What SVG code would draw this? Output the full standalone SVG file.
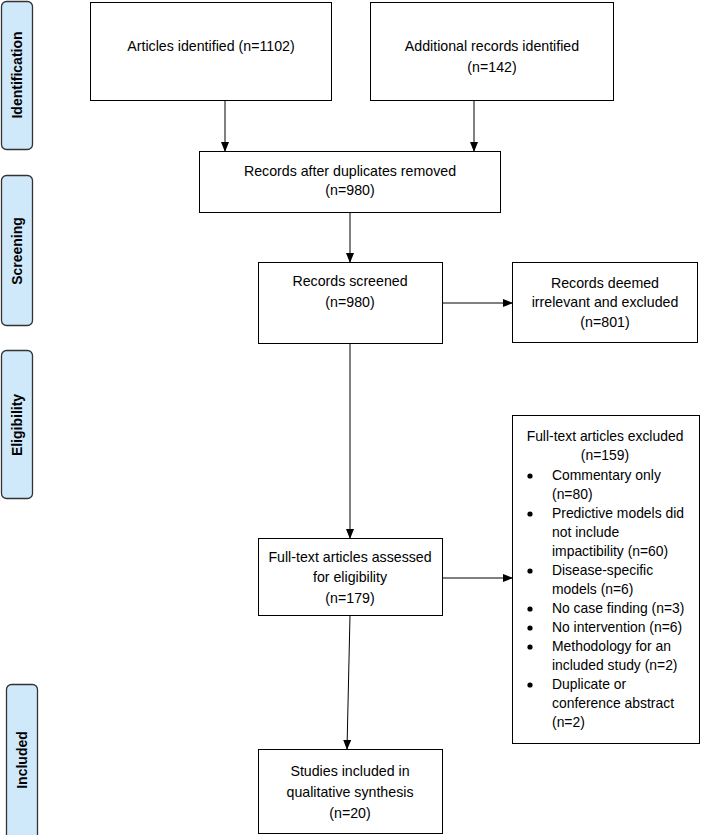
<svg xmlns="http://www.w3.org/2000/svg" width="701" height="835" viewBox="0 0 701 835">
<defs>
<marker id="ah" markerWidth="10" markerHeight="8" refX="9" refY="4" orient="auto" markerUnits="userSpaceOnUse">
<path d="M0,0 L10,4 L0,8 Z" fill="#000"/>
</marker>
<style>
.box{fill:#fff;stroke:#000;stroke-width:1}
.side{fill:#cfe9fb;stroke:#333;stroke-width:1.3}
.t{font-family:"Liberation Sans",Arial,sans-serif;font-size:14.2px;fill:#000}
.e{font-family:"Liberation Sans",Arial,sans-serif;font-size:13.9px;fill:#000}
.dot{fill:#000}
.c{text-anchor:middle}
.s{font-family:"Liberation Sans",Arial,sans-serif;font-size:14px;font-weight:bold;fill:#000;text-anchor:middle}
.ln{stroke:#000;stroke-width:1;fill:none;marker-end:url(#ah)}
</style>
</defs>
<rect width="701" height="835" fill="#fff"/>
<g id="phase-identification"><rect class="side" x="1.5" y="1.5" width="31" height="148" rx="5"/><text class="s" transform="translate(22,75) rotate(-90)">Identification</text></g>
<g id="phase-screening"><rect class="side" x="1.5" y="175.5" width="31" height="150" rx="5"/><text class="s" transform="translate(22,251) rotate(-90)">Screening</text></g>
<g id="phase-eligibility"><rect class="side" x="1.5" y="350.5" width="31" height="148" rx="5"/><text class="s" transform="translate(22,425) rotate(-90)">Eligibility</text></g>
<g id="phase-included"><rect class="side" x="6.5" y="684.5" width="31" height="160" rx="5"/><text class="s" transform="translate(27,760) rotate(-90)">Included</text></g>

<g id="n-articles"><rect class="box" x="90.5" y="2.5" width="241" height="98"/><text class="t c" x="211" y="51">Articles identified (n=1102)</text></g>
<g id="n-additional"><rect class="box" x="370.5" y="2.5" width="243" height="98"/><text class="t c" x="492" y="51">Additional records identified</text><text class="t c" x="492" y="72">(n=142)</text></g>
<g id="n-duplicates"><rect class="box" x="199.5" y="151.5" width="301" height="61"/><text class="t c" x="350" y="176">Records after duplicates removed</text><text class="t c" x="350" y="195">(n=980)</text></g>
<g id="n-screened"><rect class="box" x="258.5" y="262.5" width="184" height="81"/><text class="t c" x="350" y="286">Records screened</text><text class="t c" x="350" y="307">(n=980)</text></g>
<g id="n-irrelevant"><rect class="box" x="512.5" y="262.5" width="185" height="80"/><text class="t c" x="605" y="288">Records deemed</text><text class="t c" x="605" y="307">irrelevant and excluded</text><text class="t c" x="605" y="327">(n=801)</text></g>
<g id="n-assessed"><rect class="box" x="258.5" y="538.5" width="184" height="77"/><text class="t c" x="350" y="562">Full-text articles assessed</text><text class="t c" x="350" y="582">for eligibility</text><text class="t c" x="350" y="603">(n=179)</text></g>
<g id="n-excluded"><rect class="box" x="512.5" y="415.5" width="187" height="328"/>
<text class="e c" x="605" y="441">Full-text articles excluded</text>
<text class="e c" x="605" y="460">(n=159)</text>
<g class="dot">
<circle cx="530" cy="476" r="2.6"/>
<circle cx="530" cy="514" r="2.6"/>
<circle cx="530" cy="571" r="2.6"/>
<circle cx="530" cy="609" r="2.6"/>
<circle cx="530" cy="628" r="2.6"/>
<circle cx="530" cy="647" r="2.6"/>
<circle cx="530" cy="685" r="2.6"/>
</g>
<g class="e">
<text x="552" y="480">Commentary only</text>
<text x="552" y="499">(n=80)</text>
<text x="552" y="518">Predictive models did</text>
<text x="552" y="537">not include</text>
<text x="552" y="556">impactibility (n=60)</text>
<text x="552" y="575">Disease-specific</text>
<text x="552" y="594">models (n=6)</text>
<text x="552" y="613">No case finding (n=3)</text>
<text x="552" y="632">No intervention (n=6)</text>
<text x="552" y="651">Methodology for an</text>
<text x="552" y="670">included study (n=2)</text>
<text x="552" y="689">Duplicate or</text>
<text x="552" y="708">conference abstract</text>
<text x="552" y="727">(n=2)</text>
</g></g>
<g id="n-included"><rect class="box" x="258.5" y="749.5" width="184" height="84"/><text class="t c" x="350" y="776">Studies included in</text><text class="t c" x="350" y="797">qualitative synthesis</text><text class="t c" x="350" y="818">(n=20)</text></g>

<g id="connectors">
<line class="ln" x1="225" y1="100" x2="225" y2="151"/>
<line class="ln" x1="474" y1="100" x2="474" y2="151"/>
<line class="ln" x1="350" y1="212" x2="350" y2="262"/>
<line class="ln" x1="442" y1="303" x2="512" y2="303"/>
<line class="ln" x1="350" y1="343" x2="350" y2="538"/>
<line class="ln" x1="442" y1="578" x2="512" y2="578"/>
<line class="ln" x1="350" y1="615" x2="347" y2="749"/>
</g>
</svg>
